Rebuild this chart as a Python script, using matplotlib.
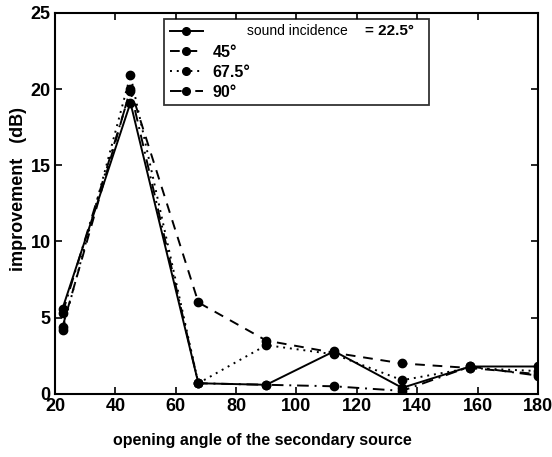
import matplotlib
matplotlib.use("Agg")
import matplotlib.pyplot as plt

plt.rcParams["font.family"] = ["Liberation Sans", "DejaVu Sans"]

# data
angles = [22.5, 45, 67.5, 90, 112.5, 135, 157.5, 180]
inc_22 = [5.6, 19.1, 0.7, 0.6, 2.8, 0.4, 1.8, 1.8]
inc_45 = [4.4, 20.0, 6.0, 3.5, 2.7, 2.0, 1.7, 1.3]
inc_67 = [4.2, 20.9, 0.7, 3.2, 2.6, 0.9, 1.7, 1.5]
inc_90 = [5.3, 19.9, 0.7, 0.6, 0.5, 0.2, 1.8, 1.2]
labels = [" ", "45°", "67.5°", "90°"]
first_label = ["sound incidence", "= 22.5°"]

fig = plt.figure(figsize=(5.52, 4.57), dpi=100)
ax = fig.add_axes([0.0996, 0.138, 0.875, 0.834])

kw = dict(color="black", marker="o", markersize=6, linewidth=1.4)
l1, = ax.plot(angles, inc_22, linestyle="-", **kw)
l2, = ax.plot(angles, inc_45, linestyle=(0, (5, 4)), **kw)
l3, = ax.plot(angles, inc_67, linestyle=(0, (1, 2.5)), **kw)
l4, = ax.plot(angles, inc_90, linestyle=(0, (6, 3, 1, 3)), **kw)

ax.set_xlim(20, 180)
ax.set_ylim(0, 25)
ax.set_xticks(range(20, 181, 20))
ax.set_yticks(range(0, 26, 5))
ax.tick_params(direction="in", top=True, right=True, length=5, width=1.2,
               labelsize=13, pad=3)
for lab in ax.get_xticklabels() + ax.get_yticklabels():
    lab.set_fontweight("bold")
for sp in ax.spines.values():
    sp.set_linewidth(1.5)

ax.set_xlabel("opening angle of the secondary source", fontsize=11.5,
              fontweight="bold")
ax.xaxis.set_label_coords(0.43, -0.102)
ax.set_ylabel("improvement   (dB)", fontsize=13, fontweight="bold")
ax.yaxis.set_label_coords(-0.058, 0.538)

leg = ax.legend([l1, l2, l3, l4], labels, loc="upper left",
                bbox_to_anchor=(0.2257, 0.984, 0.549, 0.0),
                mode="expand", fontsize=11.5, frameon=True, fancybox=False,
                edgecolor="black", handlelength=2.1, borderpad=0.35,
                labelspacing=0.32, handletextpad=0.6, borderaxespad=0)
leg.get_frame().set_linewidth(1.3)
for t in leg.get_texts():
    t.set_fontweight("bold")
for h in leg.legend_handles:
    h.set_markersize(5.5)

ax.text(0.397, 0.953, first_label[0], transform=ax.transAxes, fontsize=10,
        va="center", ha="left", zorder=10)
ax.text(0.642, 0.953, first_label[1], transform=ax.transAxes, fontsize=11,
        fontweight="bold", va="center", ha="left", zorder=10)

fig.savefig("out.png", dpi=100)
